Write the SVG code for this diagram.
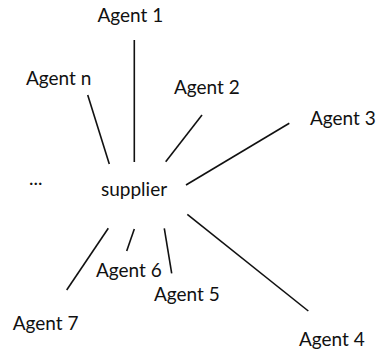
<svg xmlns="http://www.w3.org/2000/svg" width="381" height="350" viewBox="0 0 381 350">
<style>
text{font-family:Lato,"Open Sans","Liberation Sans",sans-serif;font-size:19px;fill:#111}
.c line{stroke:#111;stroke-width:1.6;stroke-linecap:butt}
</style>
<rect width="381" height="350" fill="#fff"/>
<g class="c" id="connectors">
<line x1="87.7" y1="95" x2="109.3" y2="164"/>
<line x1="134.3" y1="40" x2="134.3" y2="162"/>
<line x1="202" y1="115" x2="165.7" y2="161.7"/>
<line x1="289.3" y1="123.3" x2="186" y2="185"/>
<line x1="187.3" y1="214.3" x2="308.3" y2="311"/>
<line x1="164.3" y1="228.3" x2="171.7" y2="273.3"/>
<line x1="134.3" y1="229" x2="126.7" y2="251"/>
<line x1="108.3" y1="228.3" x2="66.7" y2="290"/>
</g>
<g id="supplier"><text x="101" y="196">supplier</text></g>
<g id="agent1"><text x="97.5" y="22">Agent 1</text></g>
<g id="agentn"><text x="26" y="85">Agent n</text></g>
<g id="agent2"><text x="174" y="94">Agent 2</text></g>
<g id="agent3"><text x="310" y="125">Agent 3</text></g>
<g id="ellipsis"><text x="29" y="185">...</text></g>
<g id="agent6"><text x="96" y="277">Agent 6</text></g>
<g id="agent5"><text x="154" y="301">Agent 5</text></g>
<g id="agent7"><text x="12.7" y="330">Agent 7</text></g>
<g id="agent4"><text x="299" y="346">Agent 4</text></g>
</svg>
